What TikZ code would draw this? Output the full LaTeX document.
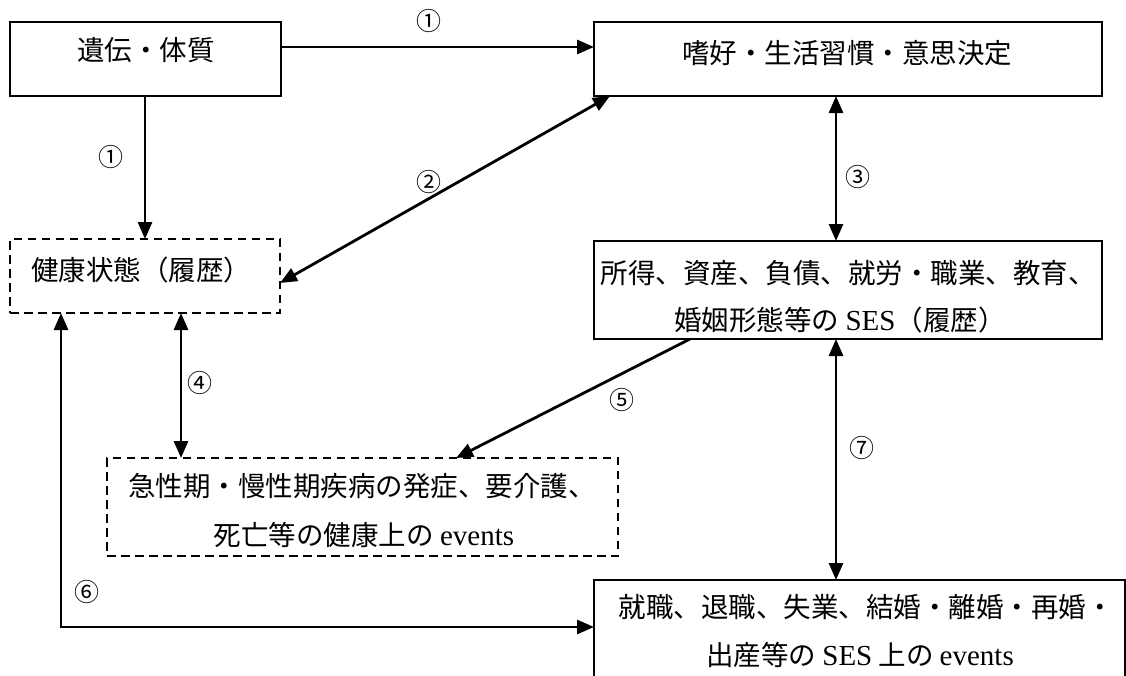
\documentclass[tikz,border=0pt]{standalone}
\usepackage{fontspec}
\setmainfont{Noto Sans CJK JP}
\newfontfamily\lat{Liberation Serif}
\usetikzlibrary{arrows.meta,calc}
\begin{document}
\begin{tikzpicture}[x=1pt,y=-1pt,
  box/.style={draw, line width=2.5pt, inner sep=0pt, outer sep=0pt, anchor=north west},
  dbox/.style={draw, line width=2.3pt, dash pattern=on 8.5pt off 5.5pt, inner sep=0pt, outer sep=0pt, anchor=north west},
  arr/.style={line width=2.8pt, -{Triangle[length=17pt,width=14pt]}},
  darr/.style={line width=2.8pt, {Triangle[length=17pt,width=14pt]}-{Triangle[length=17pt,width=14pt]}},
  txt/.style={font=\fontsize{27.5}{32}\selectfont, inner sep=0pt},
  lt/.style={},
  num/.style={font=\fontsize{25}{28}\selectfont, inner sep=0pt}]
\useasboundingbox (0,0) rectangle (1126,675);
% boxes
\node[box, minimum width=271pt, minimum height=74pt] (A) at (10,22) {};
\node[box, minimum width=508pt, minimum height=74pt] (B) at (594,22) {};
\node[dbox, minimum width=270pt, minimum height=74pt] (C) at (10,239) {};
\node[box, minimum width=508pt, minimum height=98pt] (D) at (594,241) {};
\node[dbox, minimum width=511pt, minimum height=98pt] (E) at (107,458) {};
\node[box, minimum width=531pt, minimum height=120pt] (F) at (594,580) {};
% texts
\node[txt] (tA) at (146,50) {遺伝・体質};
\node[txt] (tB) at (847,53) {嗜好・生活習慣・意思決定};
\node[txt, anchor=west] (tC) at (31,270) {健康状態（履歴）};
\node[txt] (tD1) at (848,273) {所得、資産、負債、就労・職業、教育、};
\node[txt] (tD2) at (840,320) {婚姻形態等の {\lat\fontsize{29}{32}\selectfont SES}（履歴）};
\node[txt] (tE1) at (362,486) {急性期・慢性期疾病の発症、要介護、};
\node[txt] (tE2) at (364,535) {死亡等の健康上の {\lat\fontsize{29}{32}\selectfont events}};
\node[txt] (tF1) at (866,607) {就職、退職、失業、結婚・離婚・再婚・};
\node[txt] (tF2) at (860,655) {出産等の {\lat\fontsize{29}{32}\selectfont SES} 上の {\lat\fontsize{29}{32}\selectfont events}};
% connectors
\draw[arr] ($(A.north east)+(0,25)$) -- ($(B.north west)+(0,25)$);
\draw[arr] ($(A.south west)+(135,0)$) -- ($(C.north west)+(135,0)$);
\draw[darr] ($(B.south west)+(16,0)$) -- ($(C.north east)+(0,44)$);
\draw[darr] ($(B.south west)+(242,0)$) -- ($(D.north west)+(242,0)$);
\draw[darr] ($(C.south west)+(171,0)$) -- ($(E.north west)+(74,0)$);
\draw[arr] ($(D.south west)+(96,0)$) -- ($(E.north west)+(349,0)$);
\draw[darr] ($(C.south west)+(51,0)$) |- ($(F.north west)+(0,47)$);
\draw[darr] ($(D.south west)+(242,0)$) -- ($(F.north west)+(242,0)$);
% labels
\node[num] (n1a) at (429,21) {①};
\node[num] (n1b) at (111,157) {①};
\node[num] (n2) at (429,182) {②};
\node[num] (n3) at (858,177) {③};
\node[num] (n4) at (200,383) {④};
\node[num] (n5) at (622,400) {⑤};
\node[num] (n6) at (87,592) {⑥};
\node[num] (n7) at (862,448) {⑦};
\end{tikzpicture}
\end{document}
